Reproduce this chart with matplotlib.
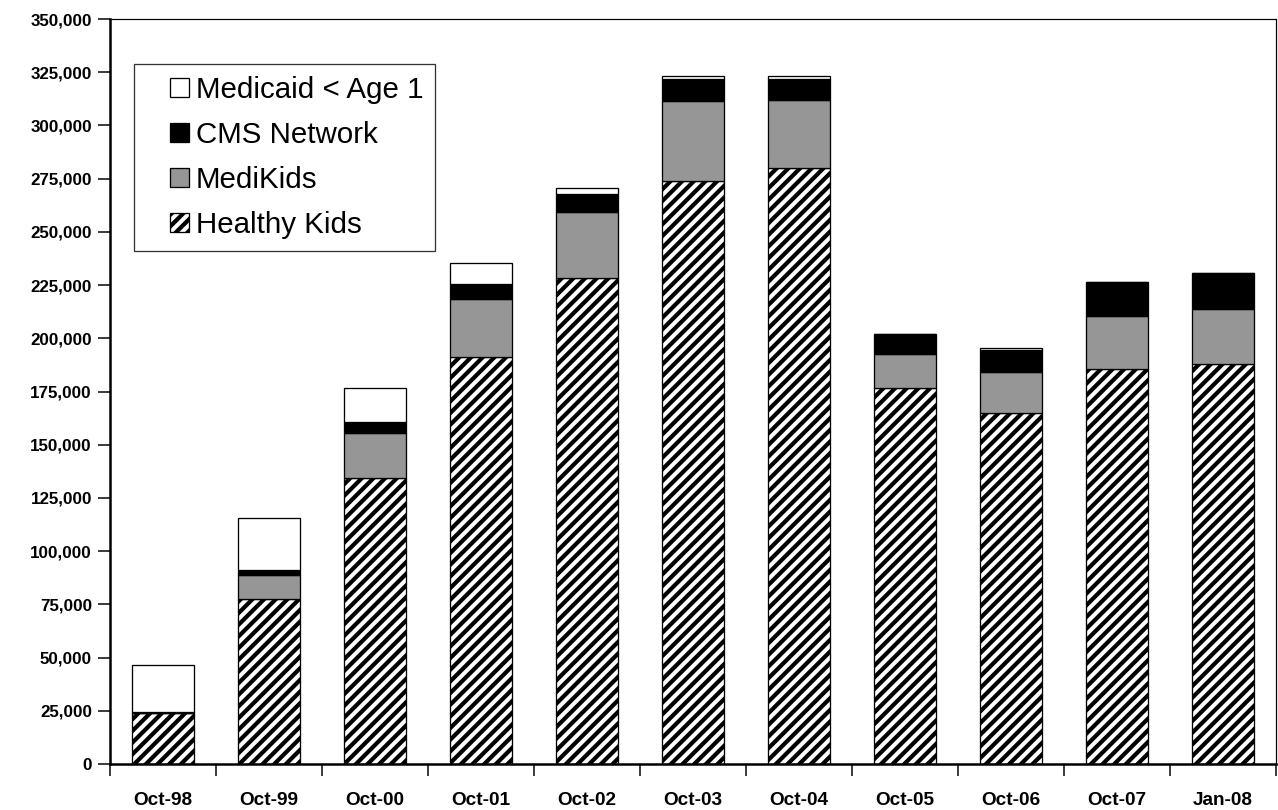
import numpy as np
import matplotlib.pyplot as plt
from matplotlib.patches import Rectangle
from matplotlib.container import BarContainer
from matplotlib.legend_handler import HandlerPatch
from matplotlib.ticker import FuncFormatter, FixedLocator

DPI = 140


def pt(px):
    # pixel size -> points at the chosen dpi
    return px * 72.0 / DPI


categories = ["Oct-98", "Oct-99", "Oct-00", "Oct-01", "Oct-02", "Oct-03",
              "Oct-04", "Oct-05", "Oct-06", "Oct-07", "Jan-08"]
healthy_kids = [24000, 77300, 134400, 191200, 228200, 274000,
                280000, 176500, 164750, 185400, 188050]
medikids = [0, 11500, 21100, 27250, 31000, 37500,
            32000, 16250, 19400, 24900, 25850]
cms_network = [600, 2300, 5200, 7050, 8600, 10300,
               9900, 9400, 10350, 16000, 16750]
medicaid_age1 = [21900, 24500, 15800, 10000, 2650, 1400,
                 1100, 0, 1100, 0, 0]

plt.rcParams['font.family'] = ['Liberation Sans', 'DejaVu Sans']
plt.rcParams['hatch.linewidth'] = pt(4.2)

fig = plt.figure(figsize=(1278 / DPI, 810 / DPI), dpi=DPI)
ax = fig.add_axes([110 / 1278, 1 - 764 / 810, 1166 / 1278, 745 / 810])

x = np.arange(len(categories))
w = 0.58
edge = dict(edgecolor='black', linewidth=pt(1.3))

hk = np.array(healthy_kids)
mk = np.array(medikids)
cm = np.array(cms_network)
md = np.array(medicaid_age1)

b1 = ax.bar(x, hk, w, color='white', hatch='////', label='Healthy Kids', **edge)
b2 = ax.bar(x, mk, w, bottom=hk, color='#969696', label='MediKids', **edge)
b3 = ax.bar(x, cm, w, bottom=hk + mk, color='black', label='CMS Network', **edge)
b4 = ax.bar(x, md, w, bottom=hk + mk + cm, color='white',
            label='Medicaid < Age 1', **edge)

ax.set_xlim(-0.5, len(categories) - 0.5)
ax.set_ylim(0, 350000)
ax.set_yticks(np.arange(0, 350001, 25000))
ax.yaxis.set_major_formatter(FuncFormatter(lambda v, p: f"{int(v):,}"))

ax.set_xticks(x)
ax.set_xticklabels(categories)
ax.xaxis.set_minor_locator(FixedLocator(np.arange(-0.5, len(categories), 1.0)))

for lab in ax.get_yticklabels():
    lab.set_fontweight('bold')
    lab.set_fontsize(pt(17))
for lab in ax.get_xticklabels():
    lab.set_fontweight('bold')
    lab.set_fontsize(pt(19))

ax.tick_params(axis='y', direction='out', length=pt(12), width=pt(1.5), pad=pt(6))
ax.tick_params(axis='x', which='major', length=0, pad=pt(28))
ax.tick_params(axis='x', which='minor', direction='out', length=pt(12), width=pt(1.5))

ax.spines['left'].set_linewidth(pt(2.5))
ax.spines['bottom'].set_linewidth(pt(2.5))
ax.spines['top'].set_linewidth(pt(1.2))
ax.spines['right'].set_linewidth(pt(1.2))


def square_patch(legend, orig_handle, xdescent, ydescent, width, height, fontsize):
    # small square at the right end of the handle box
    return Rectangle((width - height - xdescent, -ydescent), height, height)


def from_first_bar(tgt, src):
    tgt.update_from(src.patches[0])


fs = 29.5
leg = ax.legend(handles=[b4, b3, b2, b1], loc='upper left',
                bbox_to_anchor=(24 / 1166, 700 / 745), borderaxespad=0,
                fontsize=pt(fs), frameon=True, fancybox=False,
                handlelength=1.46, handleheight=0.6, handletextpad=0.24,
                labelspacing=0.58, borderpad=0.4,
                handler_map={BarContainer: HandlerPatch(patch_func=square_patch,
                                                        update_func=from_first_bar)})
leg.get_frame().set_edgecolor('black')
leg.get_frame().set_linewidth(pt(1.3))

fig.savefig("out.png", dpi=DPI)
